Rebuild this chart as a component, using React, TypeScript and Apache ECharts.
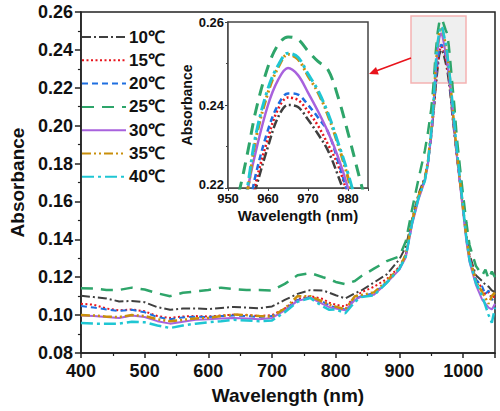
import React, { useEffect, useRef } from "react";
import * as echarts from "echarts";

const wavelength = [400, 420, 440, 460, 480, 500, 520, 540, 560, 580, 600, 620, 640, 660, 680, 700, 720, 740, 760, 780,
  790, 800, 815, 830, 840, 860, 880, 900, 910, 920, 930, 940, 945, 950, 953, 955, 957, 960, 962.5, 965, 967.5, 970, 972.5,
  975, 977.5, 980, 983, 986, 990, 995, 1000, 1005, 1010, 1020, 1030, 1035, 1040, 1045, 1050];

const t10 = [0.1102, 0.1095, 0.1088, 0.1072, 0.1075, 0.1068, 0.1042, 0.1028, 0.1035, 0.1035, 0.1032, 0.1038, 0.1043, 0.1040, 0.1036, 0.1046, 0.1080, 0.1112, 0.1132, 0.1130,
  0.1118, 0.1105, 0.1088, 0.1115, 0.1130, 0.1172, 0.1215, 0.1295, 0.1360, 0.151, 0.164, 0.173, 0.181, 0.194, 0.205, 0.212, 0.220, 0.2300, 0.2370, 0.2400, 0.2395, 0.2365, 0.2330,
  0.2290, 0.2230, 0.2160, 0.205, 0.196, 0.184, 0.170, 0.156, 0.142, 0.132, 0.121, 0.118, 0.116, 0.115, 0.113, 0.112];

const t15 = [0.1060, 0.1055, 0.1035, 0.1025, 0.1030, 0.1020, 0.0995, 0.0985, 0.0993, 0.0995, 0.0993, 0.0998, 0.1002, 0.1000, 0.0995, 0.1000, 0.1035, 0.1085, 0.1100, 0.1085,
  0.1065, 0.1055, 0.1045, 0.1095, 0.1120, 0.1150, 0.1190, 0.1255, 0.1320, 0.149, 0.162, 0.172, 0.181, 0.196, 0.204, 0.212, 0.2215, 0.2320, 0.2390, 0.2418, 0.2412, 0.2385, 0.2350,
  0.2305, 0.2255, 0.2180, 0.207, 0.197, 0.184, 0.170, 0.156, 0.141, 0.131, 0.119, 0.114, 0.111, 0.112, 0.109, 0.110];

const t20 = [0.1048, 0.1040, 0.1030, 0.1022, 0.1028, 0.1015, 0.0990, 0.0978, 0.0988, 0.0992, 0.0990, 0.0995, 0.0998, 0.0995, 0.0990, 0.0995, 0.1030, 0.1080, 0.1095, 0.1070,
  0.1050, 0.1040, 0.1030, 0.1085, 0.1100, 0.1115, 0.1175, 0.1245, 0.1310, 0.149, 0.162, 0.172, 0.181, 0.197, 0.206, 0.214, 0.2235, 0.2340, 0.2400, 0.2428, 0.2425, 0.2400, 0.2370,
  0.2335, 0.2265, 0.2185, 0.208, 0.198, 0.185, 0.170, 0.156, 0.141, 0.130, 0.119, 0.115, 0.111, 0.113, 0.108, 0.109];

const t25 = [0.1142, 0.1140, 0.1133, 0.1133, 0.1145, 0.1135, 0.1115, 0.1100, 0.1118, 0.1125, 0.1133, 0.1145, 0.1138, 0.1132, 0.1132, 0.1130, 0.1165, 0.1210, 0.1222, 0.1200,
  0.1190, 0.1175, 0.1163, 0.1180, 0.1205, 0.1245, 0.1285, 0.1310, 0.1390, 0.156, 0.172, 0.187, 0.197, 0.209, 0.220, 0.229, 0.2388, 0.2492, 0.2545, 0.2564, 0.2558, 0.2530, 0.2505,
  0.2485, 0.2420, 0.2333, 0.2220, 0.211, 0.194, 0.178, 0.163, 0.149, 0.137, 0.126, 0.121, 0.124, 0.119, 0.123, 0.120];

const t30 = [0.0998, 0.0995, 0.0990, 0.0985, 0.0998, 0.0990, 0.0968, 0.0955, 0.0965, 0.0975, 0.0978, 0.0982, 0.0985, 0.0982, 0.0978, 0.0985, 0.1025, 0.1075, 0.1092, 0.1058,
  0.1042, 0.1035, 0.1025, 0.1080, 0.1098, 0.1108, 0.1170, 0.1240, 0.1305, 0.148, 0.161, 0.171, 0.180, 0.195, 0.207, 0.220, 0.2290, 0.2400, 0.2460, 0.2489, 0.2472, 0.2430, 0.2385,
  0.2335, 0.2275, 0.2200, 0.209, 0.198, 0.184, 0.169, 0.154, 0.139, 0.128, 0.116, 0.108, 0.106, 0.104, 0.103, 0.106];

const t35 = [0.1000, 0.0998, 0.0992, 0.0990, 0.1000, 0.0995, 0.0978, 0.0968, 0.0975, 0.0982, 0.0985, 0.0995, 0.1003, 0.1000, 0.0995, 0.0992, 0.1035, 0.1100, 0.1100, 0.1070,
  0.1055, 0.1045, 0.1030, 0.1100, 0.1105, 0.1120, 0.1180, 0.1250, 0.1320, 0.150, 0.163, 0.172, 0.182, 0.198, 0.209, 0.220, 0.2320, 0.2430, 0.2490, 0.2522, 0.2510, 0.2470, 0.2430,
  0.2375, 0.2305, 0.2225, 0.211, 0.200, 0.186, 0.171, 0.156, 0.141, 0.130, 0.118, 0.112, 0.109, 0.106, 0.110, 0.112];

const t40 = [0.0958, 0.0955, 0.0955, 0.0955, 0.0965, 0.0962, 0.0945, 0.0932, 0.0945, 0.0955, 0.0962, 0.0968, 0.0975, 0.0972, 0.0968, 0.0972, 0.1015, 0.1070, 0.1090, 0.1045,
  0.1028, 0.1030, 0.1010, 0.1070, 0.1095, 0.1105, 0.1170, 0.1245, 0.1310, 0.149, 0.162, 0.171, 0.181, 0.197, 0.209, 0.221, 0.2330, 0.2440, 0.2495, 0.2525, 0.2515, 0.2475, 0.2435,
  0.2380, 0.2310, 0.2235, 0.213, 0.202, 0.188, 0.172, 0.157, 0.141, 0.129, 0.117, 0.110, 0.105, 0.100, 0.096, 0.104];

const seriesNames = ["10℃", "15℃", "20℃", "25℃", "30℃", "35℃", "40℃"];
const seriesValues = [t10, t15, t20, t25, t30, t35, t40];
const seriesColors = ["#3f3f3f", "#e8141c", "#1f6fe0", "#2ea56a", "#a862dd", "#c98f0b", "#1fc6d3"];
const seriesDash: any[] = [[9, 3, 2, 3], [2, 2.5], [6, 4], [12, 8], "solid", [9, 3, 2, 3, 2, 3], [12, 4, 3, 4]];
const seriesWidth = [2, 2, 2, 2.5, 2, 2.5, 2.5];

const xTicksMain = [400, 500, 600, 700, 800, 900, 1000];
const xTicksInset = [950, 960, 970, 980];

const FONT = '"Liberation Sans", Arial, sans-serif';

export default function App() {
  const ref = useRef<HTMLDivElement>(null);
  useEffect(() => {
    if (!ref.current) return;
    const chart = echarts.init(ref.current, undefined, { renderer: "svg" });
    const axisLineStyle = { color: "#222", width: 1.5 };
    const series: any[] = [];
    seriesNames.forEach((name, i) => {
      const data = wavelength.map((w, k) => [w, seriesValues[i][k]]);
      series.push({
        name, type: "line", xAxisIndex: 0, yAxisIndex: 0, data, symbol: "none", clip: true,
        lineStyle: { color: seriesColors[i], type: seriesDash[i], width: seriesWidth[i] },
        itemStyle: { color: seriesColors[i] }, z: 3,
      });
    });
    seriesNames.forEach((name, i) => {
      const data = wavelength.map((w, k) => [w, seriesValues[i][k]]);
      series.push({
        name, type: "line", xAxisIndex: 1, yAxisIndex: 1, data, symbol: "none", clip: true, smooth: 0.35,
        lineStyle: { color: seriesColors[i], type: seriesDash[i], width: seriesWidth[i] + 0.5 },
        itemStyle: { color: seriesColors[i] }, z: 5,
      });
    });
    chart.setOption({
      animation: false,
      backgroundColor: "#fff",
      grid: [
        { left: 73, top: 12, right: 5, bottom: 58, show: true, borderColor: "#222", borderWidth: 1.5, z: 0 },
        { left: 228, top: 22, width: 140, height: 166, show: true, borderColor: "#444", borderWidth: 1.5, backgroundColor: "#fff", z: 4 },
      ],
      legend: {
        orient: "vertical", left: 76, top: 22, itemWidth: 44, itemHeight: 14, itemGap: 3.3,
        data: seriesNames,
        itemStyle: { opacity: 0, borderWidth: 0 },
        textStyle: { fontFamily: FONT, fontWeight: "bold", fontSize: 17, color: "#111", lineHeight: 20, padding: [0, 0, 0, -2] },
        selectedMode: false,
      },
      xAxis: [
        {
          type: "value", gridIndex: 0, min: 400, max: 1050, interval: 100,
          name: "Wavelength (nm)", nameLocation: "middle", nameGap: 33,
          nameTextStyle: { fontFamily: FONT, fontWeight: "bold", fontSize: 19, color: "#111" },
          axisLine: { lineStyle: axisLineStyle },
          axisTick: { length: 5, lineStyle: axisLineStyle },
          minorTick: { show: true, splitNumber: 2, length: 3, lineStyle: { color: "#222", width: 1.2 } },
          splitLine: { show: false },
          axisLabel: {
            margin: 9, fontFamily: FONT, fontWeight: "bold", fontSize: 18, color: "#111",
            formatter: (v: number) => (xTicksMain.includes(v) ? String(v) : ""),
          },
        },
        {
          type: "value", gridIndex: 1, min: 950, max: 985, interval: 10,
          name: "Wavelength (nm)", nameLocation: "middle", nameGap: 20,
          nameTextStyle: { fontFamily: FONT, fontWeight: "bold", fontSize: 15, color: "#111" },
          axisLine: { lineStyle: { color: "#444", width: 1.5 } },
          axisTick: { length: 3, lineStyle: { color: "#444" } },
          splitLine: { show: false },
          axisLabel: {
            margin: 4, fontFamily: FONT, fontWeight: "bold", fontSize: 13, color: "#111",
            formatter: (v: number) => (xTicksInset.includes(v) ? String(v) : ""),
          },
        },
      ],
      yAxis: [
        {
          type: "value", gridIndex: 0, min: 0.08, max: 0.26, interval: 0.02,
          name: "Absorbance", nameLocation: "middle", nameGap: 48,
          nameTextStyle: { fontFamily: FONT, fontWeight: "bold", fontSize: 19, color: "#111" },
          axisLine: { lineStyle: axisLineStyle },
          axisTick: { length: 6, lineStyle: axisLineStyle },
          minorTick: { show: true, splitNumber: 2, length: 3, lineStyle: { color: "#222", width: 1.2 } },
          splitLine: { show: false },
          axisLabel: {
            margin: 8, fontFamily: FONT, fontWeight: "bold", fontSize: 18, color: "#111",
            formatter: (v: number) => v.toFixed(2),
          },
        },
        {
          type: "value", gridIndex: 1, min: 0.22, max: 0.26, interval: 0.02,
          name: "Absorbance", nameLocation: "middle", nameGap: 34,
          nameTextStyle: { fontFamily: FONT, fontWeight: "bold", fontSize: 14, color: "#111" },
          axisLine: { lineStyle: { color: "#444", width: 1.5 } },
          axisTick: { length: 3, lineStyle: { color: "#444" } },
          minorTick: { show: true, splitNumber: 2, length: 2, lineStyle: { color: "#444" } },
          splitLine: { show: false },
          axisLabel: {
            margin: 4, fontFamily: FONT, fontWeight: "bold", fontSize: 13, color: "#111",
            formatter: (v: number) => (Math.abs(v - 0.22) < 1e-6 ? "{low|0.22}" : v.toFixed(2)),
            rich: { low: { fontFamily: FONT, fontWeight: "bold", fontSize: 13, color: "#111", padding: [0, 0, 7, 0] } },
          },
        },
      ],
      graphic: [
        { type: "rect", z: 1, shape: { x: 411, y: 16, width: 55, height: 67 }, style: { fill: "#efefef", stroke: "#f5b3b3", lineWidth: 1.5 } },
        { type: "line", z: 6, shape: { x1: 411, y1: 58, x2: 376, y2: 71 }, style: { stroke: "#e8131b", lineWidth: 1.6 } },
        { type: "polygon", z: 6, shape: { points: [[369, 74], [378.8, 74.6], [376, 67]] }, style: { fill: "#e8131b" } },
      ],
      series,
    });
    return () => chart.dispose();
  }, []);
  return <div ref={ref} style={{ position: "fixed", left: 0, top: 0, width: 500, height: 411 }} />;
}
